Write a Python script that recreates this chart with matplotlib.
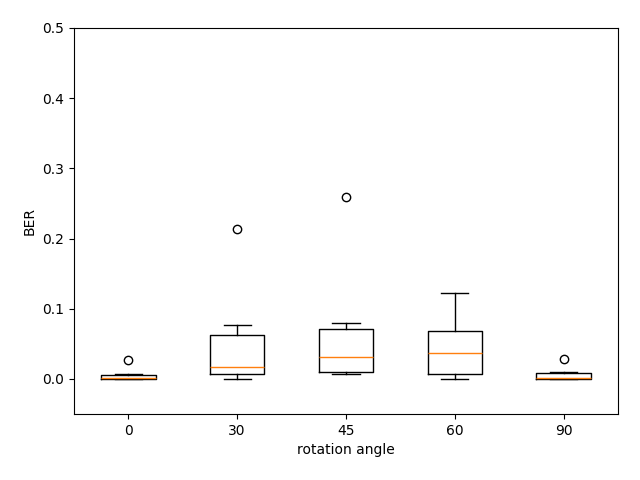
import matplotlib
matplotlib.use("Agg")
import matplotlib.pyplot as plt

angles = ["0", "30", "45", "60", "90"]
whislo = [0.0, 0.0, 0.007, 0.0, 0.0]
q1 = [0.0, 0.007, 0.0104, 0.0067, 0.0]
med = [0.002, 0.0175, 0.031, 0.037, 0.002]
q3 = [0.006, 0.0627, 0.0708, 0.068, 0.008]
whishi = [0.0075, 0.077, 0.079, 0.122, 0.0095]
fliers = [[0.027], [0.214], [0.259], [], [0.029]]

stats = []
for i in range(len(angles)):
    stats.append({"label": angles[i], "whislo": whislo[i], "q1": q1[i],
                  "med": med[i], "q3": q3[i], "whishi": whishi[i],
                  "fliers": fliers[i]})

fig, ax = plt.subplots(figsize=(6.4, 4.8), dpi=100)
ax.bxp(stats)
ax.set_ylim(-0.05, 0.5)
ax.set_xlabel("rotation angle")
ax.set_ylabel("BER")
fig.subplots_adjust(left=0.1156, right=0.9656, top=0.9417, bottom=0.1375)
plt.savefig("out.png")
